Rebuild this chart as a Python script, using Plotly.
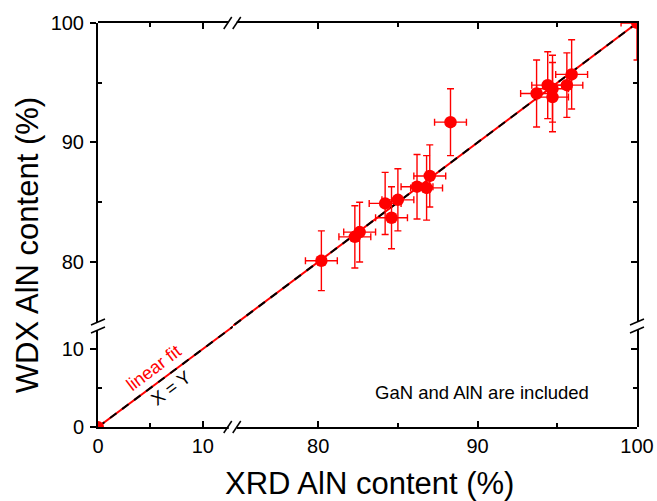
import plotly.graph_objects as go

# ---------------- data ----------------
xrd = [80.2, 82.3, 82.6, 84.2, 84.6, 85.0, 86.2, 86.8, 87.0, 88.3,
       93.7, 94.4, 94.7, 94.7, 95.6, 95.9]
wdx = [80.1, 82.1, 82.5, 84.9, 83.7, 85.2, 86.3, 86.2, 87.2, 91.7,
       94.1, 94.8, 94.5, 93.8, 94.8, 95.7]
xrd_err = [1.0] * 16
wdx_err = [2.5, 2.6, 2.5, 2.6, 2.6, 2.6, 2.7, 2.7, 2.6, 2.8,
           2.8, 2.8, 2.8, 2.9, 2.7, 2.9]

# binary end members (GaN, AlN)
end_x = [0, 100]
end_y = [0, 100]
end_xerr = [0.3, 1.0]
end_yerr = [0.3, 3.1]

fit_slope = 1.0
fit_intercept = 0.0

x_low_ticks = [0, 10]
x_high_ticks = [80, 90, 100]
y_low_ticks = [0, 10]
y_high_ticks = [80, 90, 100]

# ---------------- axis geometry ----------------
BRK = 0.25
XL = [0, 12.85]
XH = [74.64, 100]
YL = [0, 12.95]
YH = [74.64, 100]

RED = "#ff0000"
FONT = "Arial, 'Liberation Sans', sans-serif"

fig = go.Figure()

# linear fit (red) and X=Y (black dashed) in both segments
for xa, ya, rng in (("x", "y", [0, 14]), ("x2", "y2", [74, 100])):
    xs = rng
    fig.add_trace(go.Scatter(x=xs, y=[fit_slope * v + fit_intercept for v in xs],
                             xaxis=xa, yaxis=ya, mode="lines",
                             line=dict(color=RED, width=2), showlegend=False,
                             hoverinfo="skip"))
    fig.add_trace(go.Scatter(x=xs, y=xs, xaxis=xa, yaxis=ya, mode="lines",
                             line=dict(color="black", width=2, dash="8px,7px"),
                             showlegend=False, hoverinfo="skip"))

err_style = dict(type="data", thickness=1.4, width=3.5, color=RED)

# GaN point (lower segment)
fig.add_trace(go.Scatter(x=[end_x[0]], y=[end_y[0]], xaxis="x", yaxis="y",
                         mode="markers", marker=dict(color=RED, size=12),
                         error_x=dict(array=[end_xerr[0]], **err_style),
                         error_y=dict(array=[end_yerr[0]], **err_style),
                         showlegend=False, cliponaxis=True))
# AlN point (upper segment)
fig.add_trace(go.Scatter(x=[end_x[1]], y=[end_y[1]], xaxis="x2", yaxis="y2",
                         mode="markers", marker=dict(color=RED, size=12),
                         error_x=dict(array=[end_xerr[1]], **err_style),
                         error_y=dict(array=[end_yerr[1]], **err_style),
                         showlegend=False, cliponaxis=True))
# ternary samples
fig.add_trace(go.Scatter(x=xrd, y=wdx, xaxis="x2", yaxis="y2",
                         mode="markers", marker=dict(color=RED, size=12.5),
                         error_x=dict(array=xrd_err, **err_style),
                         error_y=dict(array=wdx_err, **err_style),
                         showlegend=False, cliponaxis=True))

# dummy traces to instantiate the frame axes
fig.add_trace(go.Scatter(x=[None], y=[None], xaxis="x3", yaxis="y3", showlegend=False))
fig.add_trace(go.Scatter(x=[None], y=[None], xaxis="x4", yaxis="y4", showlegend=False))

tickfont = dict(family=FONT, size=20, color="black")
ax_common = dict(showline=True, linecolor="black", linewidth=2, showgrid=False,
                 zeroline=False, ticklen=6, tickwidth=2, automargin=False,
                 tickcolor="black", tickfont=tickfont)
minor_common = dict(ticks="inside", ticklen=4, tickwidth=2, tickcolor="black")

fig.update_layout(
    width=657, height=501,
    margin=dict(l=98, r=20, t=23, b=74),
    plot_bgcolor="rgba(0,0,0,0)", paper_bgcolor="white",
    xaxis=dict(domain=[0, BRK], range=XL, anchor="y", side="bottom", ticks="inside",
               tickvals=x_low_ticks, minor=dict(tickvals=[5], **minor_common),
               **ax_common),
    xaxis2=dict(domain=[BRK, 1], range=XH, anchor="y", side="bottom", ticks="inside",
                tickvals=x_high_ticks, minor=dict(tickvals=[85, 95], **minor_common),
                **ax_common),
    xaxis3=dict(domain=[0, BRK], range=XL, anchor="y4", side="top", ticks="inside",
                tickvals=x_low_ticks, showticklabels=False,
                minor=dict(tickvals=[5], **minor_common), **ax_common),
    xaxis4=dict(domain=[BRK, 1], range=XH, anchor="y4", side="top", ticks="inside",
                tickvals=x_high_ticks, showticklabels=False,
                minor=dict(tickvals=[85, 95], **minor_common), **ax_common),
    yaxis=dict(domain=[0, BRK], range=YL, anchor="x", side="left", ticks="outside",
               tickvals=y_low_ticks, minor=dict(tickvals=[5], **minor_common),
               ticklabelstandoff=2, **ax_common),
    yaxis2=dict(domain=[BRK, 1], range=YH, anchor="x", side="left", ticks="outside",
                tickvals=y_high_ticks, minor=dict(tickvals=[85, 95], **minor_common),
                ticklabelstandoff=2, **ax_common),
    yaxis3=dict(domain=[0, BRK], range=YL, anchor="x4", side="right", ticks="inside",
                tickvals=y_low_ticks, showticklabels=False,
                minor=dict(tickvals=[5], **minor_common), **ax_common),
    yaxis4=dict(domain=[BRK, 1], range=YH, anchor="x4", side="right", ticks="inside",
                tickvals=y_high_ticks, showticklabels=False,
                minor=dict(tickvals=[85, 95], **minor_common), **ax_common),
)

# axis titles
fig.add_annotation(text="XRD AlN content (%)", xref="paper", yref="paper",
                   x=0.5, xshift=2, y=0, yshift=-56, showarrow=False, yanchor="middle",
                   font=dict(family=FONT, size=31, color="black"))
fig.add_annotation(text="WDX AlN content (%)", xref="paper", yref="paper",
                   x=0, xshift=-71, y=0.45, showarrow=False, textangle=-90,
                   xanchor="center", yanchor="middle",
                   font=dict(family=FONT, size=31, color="black"))

# in-plot labels
fig.add_annotation(text="linear fit", xref="x", yref="y", x=5.3, y=7.6,
                   showarrow=False, textangle=-37,
                   font=dict(family=FONT, size=18, color=RED))
fig.add_annotation(text="X = Y", xref="x", yref="y", x=7.0, y=5.0,
                   showarrow=False, textangle=-37,
                   font=dict(family=FONT, size=18, color="black"))
fig.add_annotation(text="GaN and AlN are included", xref="x2", yref="y",
                   x=90.3, y=4.4, showarrow=False,
                   font=dict(family=FONT, size=18.5, color="black"))

# axis-break marks (//)
for yp in (0, 1):
    fig.add_shape(type="rect", xref="paper", yref="paper",
                  xsizemode="pixel", ysizemode="pixel",
                  xanchor=BRK, yanchor=yp, x0=-4, x1=4, y0=-3, y1=3,
                  line=dict(width=0), fillcolor="white")
    for dx in (-5, 4):
        fig.add_shape(type="line", xref="paper", yref="paper",
                      xsizemode="pixel", ysizemode="pixel",
                      xanchor=BRK, yanchor=yp,
                      x0=dx - 4, x1=dx + 4, y0=-6, y1=6,
                      line=dict(color="black", width=1.5))
for xp in (0, 1):
    fig.add_shape(type="rect", xref="paper", yref="paper",
                  xsizemode="pixel", ysizemode="pixel",
                  xanchor=xp, yanchor=BRK, x0=-3, x1=3, y0=-4, y1=4,
                  line=dict(width=0), fillcolor="white")
    for dy in (-4, 4):
        fig.add_shape(type="line", xref="paper", yref="paper",
                      xsizemode="pixel", ysizemode="pixel",
                      xanchor=xp, yanchor=BRK,
                      x0=-7, x1=7, y0=dy - 3, y1=dy + 3,
                      line=dict(color="black", width=1.5))

fig.write_html("out.html")
